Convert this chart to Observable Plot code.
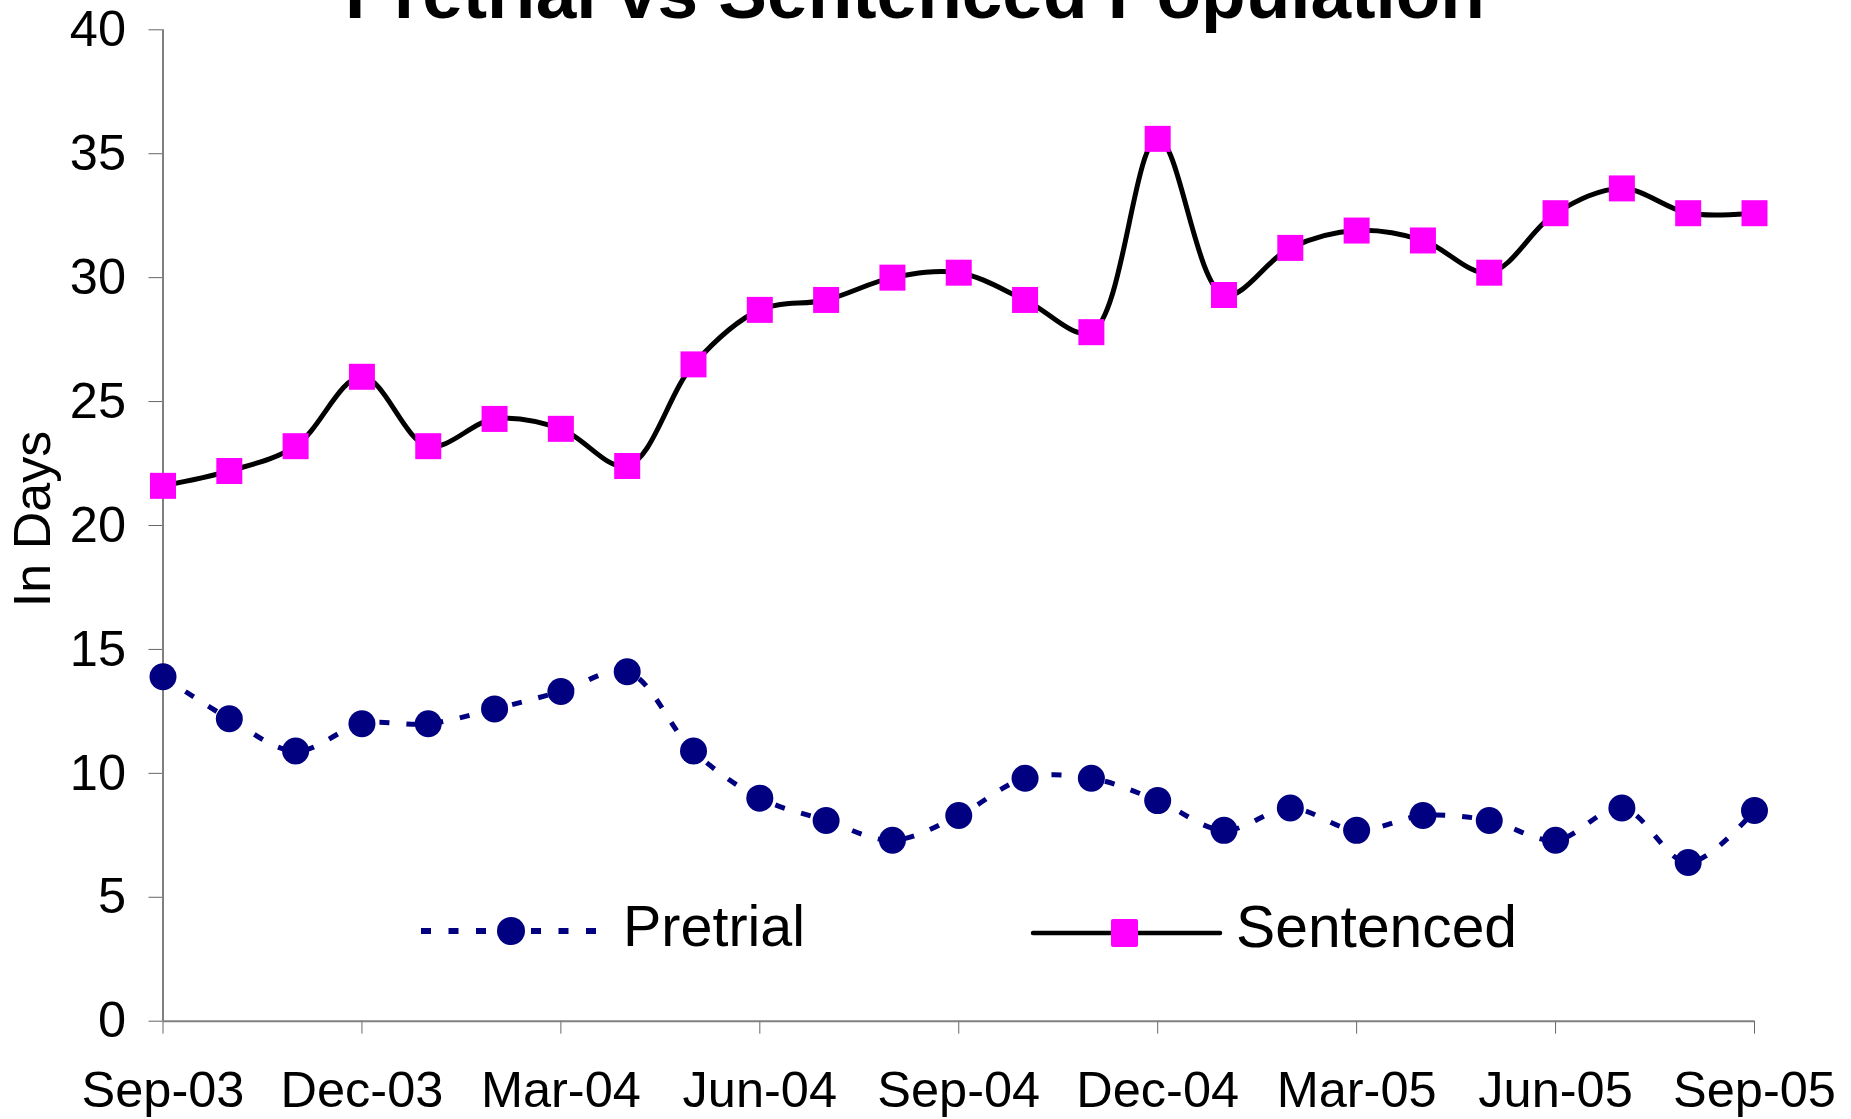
<!DOCTYPE html>
<html><head><meta charset="utf-8">
<script src="https://cdn.jsdelivr.net/npm/d3@7"></script>
<script src="https://cdn.jsdelivr.net/npm/@observablehq/plot@0.6"></script>
<style>
html,body{margin:0;padding:0;background:#fff;}
#wrap{position:relative;width:1851px;height:1119px;overflow:hidden;font-family:"Liberation Sans",Arial,sans-serif;}
#wrap svg{position:absolute;left:0;top:0;}
</style></head><body><div id="wrap"></div>
<script>
// ---- data ----
const months = ["2003-09","2003-10","2003-11","2003-12","2004-01","2004-02","2004-03","2004-04","2004-05","2004-06","2004-07","2004-08","2004-09","2004-10","2004-11","2004-12","2005-01","2005-02","2005-03","2005-04","2005-05","2005-06","2005-07","2005-08","2005-09"];
const pretrial = [13.9, 12.2, 10.9, 12.0, 12.0, 12.6, 13.3, 14.1, 10.9, 9.0, 8.1, 7.3, 8.3, 9.8, 9.8, 8.9, 7.7, 8.6, 7.7, 8.3, 8.1, 7.3, 8.6, 6.4, 8.5];
const sentenced = [21.6, 22.2, 23.2, 26.0, 23.2, 24.3, 23.9, 22.4, 26.5, 28.7, 29.1, 30.0, 30.2, 29.1, 27.8, 35.6, 29.3, 31.2, 31.9, 31.5, 30.2, 32.6, 33.6, 32.6, 32.6];
const tickMonths = ["2003-09","2003-12","2004-03","2004-06","2004-09","2004-12","2005-03","2005-06","2005-09"];
const tickLabels = ["Sep-03","Dec-03","Mar-04","Jun-04","Sep-04","Dec-04","Mar-05","Jun-05","Sep-05"];
const yTicks = [0, 5, 10, 15, 20, 25, 30, 35, 40];
const titleText = "Pretrial vs Sentenced Population";
const yLabel = "In Days";
const seriesNames = ["Pretrial", "Sentenced"];

// ---- build ----
const FONT = '"Liberation Sans", Arial, sans-serif';
// Excel month-based date axis: each month gets equal width -> month index
const rows = months.map((m, i) => ({idx: i, month: m, pretrial: pretrial[i], sentenced: sentenced[i]}));
const tickIdx = tickMonths.map(m => months.indexOf(m));
const fmt = v => tickLabels[tickIdx.indexOf(v)];

const chart = Plot.plot({
  width: 1851, height: 1119,
  marginLeft: 162.5, marginRight: 97, marginTop: 29.3, marginBottom: 98.3,
  style: {fontFamily: FONT, color: "#000", background: "transparent"},
  x: {type: "linear", domain: [0, months.length - 1]},
  y: {domain: [0, 40]},
  marks: [
    Plot.axisY({ticks: yTicks, tickSize: 14, tickPadding: 23, fontSize: 50.5, stroke: "#666", fill: "#000", label: null, tickFormat: d => String(d)}),
    Plot.axisX({ticks: tickIdx, tickFormat: fmt, tickSize: 13, tickPadding: 37, fontSize: 50.5, stroke: "#666", fill: "#000", label: null}),
    Plot.ruleY([0], {stroke: "#808080", strokeWidth: 2}),
    Plot.ruleX([0], {stroke: "#808080", strokeWidth: 2}),
    Plot.line(rows, {x: "idx", y: "pretrial", stroke: "#000080", strokeWidth: 5, strokeDasharray: "10,17", strokeLinecap: "butt", curve: "catmull-rom"}),
    Plot.line(rows, {x: "idx", y: "sentenced", stroke: "#000", strokeWidth: 5, curve: "catmull-rom"}),
    Plot.dot(rows, {x: "idx", y: "pretrial", r: 13.5, fill: "#000080", symbol: "circle"}),
    Plot.dot(rows, {x: "idx", y: "sentenced", r: 14.67, fill: "#FF00FF", symbol: "square"})
  ]
});
const wrap = document.getElementById("wrap");
wrap.appendChild(chart);

// ---- overlay: title, y label, legend ----
const ov = d3.select(wrap).append("svg")
  .attr("width", 1851).attr("height", 1119)
  .style("pointer-events", "none")
  .style("font-family", FONT);

ov.append("text").attr("x", 915).attr("y", 18).attr("text-anchor", "middle")
  .attr("font-size", 73).attr("font-weight", "bold").attr("fill", "#000").text(titleText);

ov.append("text").attr("transform", "translate(50,519) rotate(-90)")
  .attr("text-anchor", "middle").attr("font-size", 52).attr("fill", "#000").text(yLabel);

// legend – Pretrial
const lg1 = ov.append("g");
lg1.append("line").attr("x1", 421).attr("x2", 597).attr("y1", 931).attr("y2", 931)
  .attr("stroke", "#000080").attr("stroke-width", 6).attr("stroke-dasharray", "10,17.5");
lg1.append("circle").attr("cx", 511).attr("cy", 931).attr("r", 14).attr("fill", "#000080");
lg1.append("text").attr("x", 623).attr("y", 946).attr("font-size", 58).attr("fill", "#000")
  .attr("textLength", 182).attr("lengthAdjust", "spacingAndGlyphs").text(seriesNames[0]);

// legend – Sentenced
const lg2 = ov.append("g");
lg2.append("line").attr("x1", 1033).attr("x2", 1220).attr("y1", 933).attr("y2", 933)
  .attr("stroke", "#000").attr("stroke-width", 4.5).attr("stroke-linecap", "round");
lg2.append("rect").attr("x", 1111).attr("y", 919).attr("width", 27).attr("height", 28).attr("rx", 2).attr("fill", "#FF00FF");
lg2.append("text").attr("x", 1236).attr("y", 947).attr("font-size", 58.5).attr("fill", "#000")
  .attr("textLength", 281).attr("lengthAdjust", "spacingAndGlyphs").text(seriesNames[1]);
</script>
</body></html>
